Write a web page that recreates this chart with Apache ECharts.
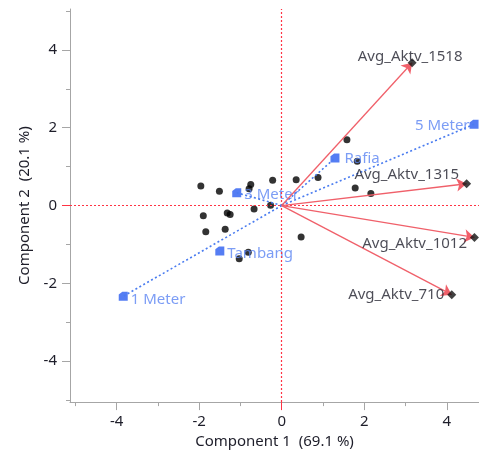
<!DOCTYPE html>
<html><head><meta charset="utf-8">
<script src="https://cdn.jsdelivr.net/npm/echarts@6/dist/echarts.min.js"></script>
<style>html,body{margin:0;padding:0;background:#fff}#c{width:479px;height:454px}</style>
</head><body><div id="c"></div>
<script>
// Score points (Component 1, Component 2)
const scoreX = [1.58, 1.83, 0.88, 0.35, -0.22, -0.75, -0.79, -1.96, -1.51, 1.78, 2.16, -0.67, -0.27, -1.90, -1.32, -1.25, -1.84, -1.37, 0.47, -0.81, -1.03];
const scoreY = [1.69, 1.14, 0.72, 0.66, 0.65, 0.54, 0.43, 0.50, 0.37, 0.45, 0.31, -0.09, 0.01, -0.26, -0.19, -0.23, -0.67, -0.61, -0.81, -1.20, -1.37];
// Variable loadings (red arrows)
const loadNames = ['Avg_Aktv_1518', 'Avg_Aktv_1315', 'Avg_Aktv_1012', 'Avg_Aktv_710'];
const loadX = [3.16, 4.48, 4.67, 4.12];
const loadY = [3.67, 0.56, -0.82, -2.29];
// Category levels (blue)
const levelNames = ['5 Meter', 'Rafia', '3 Meter', 'Tambang', '1 Meter'];
const levelX = [4.66, 1.29, -1.09, -1.50, -3.84];
const levelY = [2.09, 1.22, 0.33, -1.17, -2.33];
const levelsWithRay = ['5 Meter', 'Rafia', '3 Meter', '1 Meter'];
// Axis ticks
const majorTicks = [-4, -2, 0, 2, 4];
const xMinorTicks = [-5, -3, -1, 1, 3];
const yMinorTicks = [-5, -3, -1, 1, 3, 5];
const xTitle = 'Component 1  (69.1 %)';
const yTitle = 'Component 2  (20.1 %)';

const X_MIN = -5.13, X_MAX = 4.78, Y_MIN = -5.05, Y_MAX = 5.05;
const FONT = 'Noto Sans';
const TXT = '#1e1e2a';
const AX = '#a6a6a6';
const ZERO = '#ff3344';

const loadLabel = {
  'Avg_Aktv_1518': {position: 'top', distance: 0, offset: [-2, 6]},
  'Avg_Aktv_1315': {position: 'left', distance: 3, offset: [0, -9]},
  'Avg_Aktv_1012': {position: 'left', distance: 3, offset: [0, 6]},
  'Avg_Aktv_710': {position: 'left', distance: 3, offset: [0, 0]}
};
const levelLabel = {
  '5 Meter': {position: 'left', distance: 0, offset: [0, 2]},
  'Rafia': {position: 'right', distance: 5, offset: [0, 1]},
  '3 Meter': {position: 'right', distance: 3, offset: [0, 2]},
  'Tambang': {position: 'right', distance: 3, offset: [0, 3]},
  '1 Meter': {position: 'right', distance: 3, offset: [0, 3]}
};

function baseAxis(min, max, pos) {
  return {
    type: 'value', min: min, max: max, position: pos, gridIndex: 0,
    axisLine: {show: false, onZero: false}, splitLine: {show: false},
    axisLabel: {show: false}, axisTick: {show: false}, axisPointer: {show: false}
  };
}
function mkX(extra) { return Object.assign(baseAxis(X_MIN, X_MAX, 'bottom'), extra); }
function mkY(extra) { return Object.assign(baseAxis(Y_MIN, Y_MAX, 'left'), extra); }
const tickLabelStyle = {fontFamily: FONT, fontSize: 15, color: TXT};

const option = {
  animation: false,
  grid: {left: 70, right: 0, top: 9, bottom: 50},
  xAxis: [
    mkX({
      axisLine: {show: true, onZero: false, lineStyle: {color: AX, width: 1}},
      axisTick: {show: true, length: 8, customValues: majorTicks.filter(v => v !== 0), lineStyle: {color: AX}},
      axisLabel: Object.assign({show: true, margin: 12, customValues: majorTicks}, tickLabelStyle),
      name: xTitle, nameLocation: 'middle', nameGap: 26,
      nameTextStyle: {fontFamily: FONT, fontSize: 15, color: TXT}
    }),
    mkX({axisTick: {show: true, length: 4, customValues: xMinorTicks, lineStyle: {color: AX}}}),
    mkX({axisTick: {show: true, length: 8, customValues: [0], lineStyle: {color: ZERO}}})
  ],
  yAxis: [
    mkY({
      axisLine: {show: true, onZero: false, lineStyle: {color: AX, width: 1}},
      axisTick: {show: true, length: 8, customValues: majorTicks.filter(v => v !== 0), lineStyle: {color: AX}},
      axisLabel: Object.assign({show: true, margin: 13, customValues: majorTicks}, tickLabelStyle),
      name: yTitle, nameLocation: 'middle', nameGap: 38, nameRotate: 90,
      nameTextStyle: {fontFamily: FONT, fontSize: 15, color: TXT}
    }),
    mkY({axisTick: {show: true, length: 4, customValues: yMinorTicks, lineStyle: {color: AX}}}),
    mkY({axisTick: {show: true, length: 8, customValues: [0], lineStyle: {color: ZERO}}})
  ],
  series: [
    {
      type: 'scatter', name: 'scores', z: 3,
      symbol: 'circle', symbolSize: 7,
      itemStyle: {color: '#000'},
      data: scoreX.map((x, i) => [x, scoreY[i]]),
      markLine: {
        silent: true, symbol: ['none', 'none'], label: {show: false},
        lineStyle: {color: ZERO, type: [2, 2], width: 1.2, opacity: 1},
        data: [{xAxis: 0}, {yAxis: 0}]
      }
    },
    {
      type: 'scatter', name: 'levels', z: 4,
      symbol: 'path://M0,3 L4,0 L10,0 L10,10 L0,10 Z', symbolSize: 9,
      itemStyle: {color: '#2a5df0'},
      data: levelNames.map((n, i) => ({
        name: n, value: [levelX[i], levelY[i]],
        label: Object.assign({show: true, formatter: n, fontFamily: FONT, fontSize: 15, color: '#5b84f2'}, levelLabel[n])
      })),
      markLine: {
        silent: true, symbol: ['none', 'none'], label: {show: false},
        lineStyle: {color: '#4a7cf0', type: [2, 2.5], width: 1.6},
        data: levelNames.map((n, i) => levelsWithRay.includes(n)
          ? [{coord: [0, 0]}, {coord: [levelX[i], levelY[i]]}] : null).filter(Boolean)
      }
    },
    {
      type: 'scatter', name: 'loadings', z: 5,
      symbol: 'diamond', symbolSize: 9,
      itemStyle: {color: '#111'},
      data: loadNames.map((n, i) => ({
        name: n, value: [loadX[i], loadY[i]],
        label: Object.assign({show: true, formatter: n, fontFamily: FONT, fontSize: 15, color: TXT}, loadLabel[n])
      })),
      markLine: {
        silent: true, symbol: ['none', 'arrow'], symbolSize: 10, label: {show: false},
        lineStyle: {color: '#f0606a', type: 'solid', width: 1.3},
        data: loadNames.map((n, i) => [{coord: [0, 0]}, {coord: [loadX[i], loadY[i]]}])
      }
    }
  ]
};
echarts.init(document.getElementById('c'), null, {renderer: 'canvas'}).setOption(option);
</script></body></html>
